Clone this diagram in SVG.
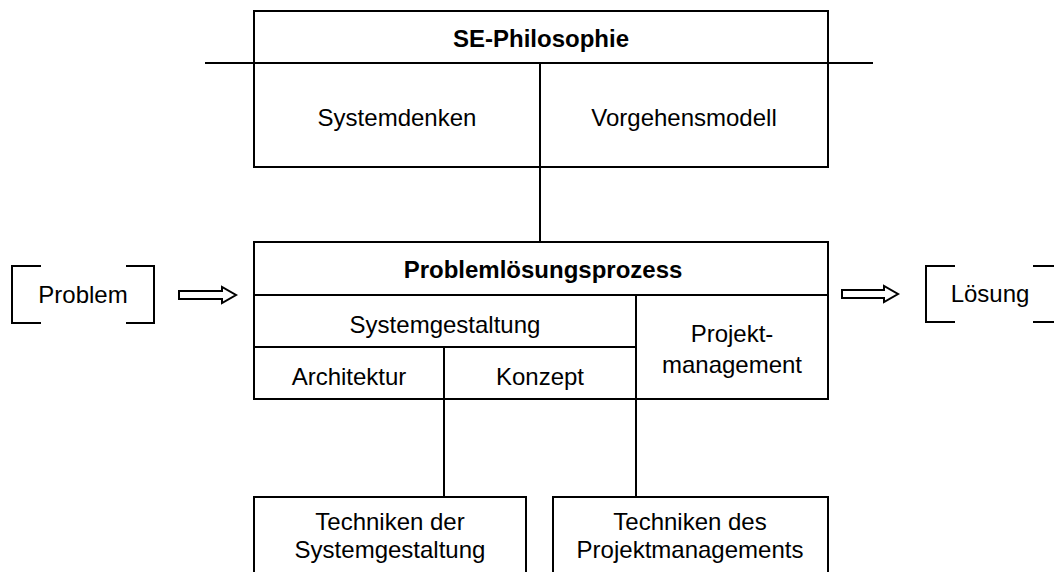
<svg xmlns="http://www.w3.org/2000/svg" width="1054" height="572" viewBox="0 0 1054 572">
<style>
.b{fill:none;stroke:#000;stroke-width:2}
.l{stroke:#000;stroke-width:2;fill:none}
.t{font-family:"Liberation Sans",Arial,sans-serif;font-size:24px;fill:#000;text-anchor:middle}
.h{font-weight:bold}
.ar{fill:#fff;stroke:#000;stroke-width:2;stroke-linejoin:miter}
</style>
<rect width="1054" height="572" fill="#fff"/>
<g id="se-philosophie">
<rect class="b" x="254" y="11" width="574" height="156"/>
<line class="l" x1="205" y1="63" x2="873" y2="63"/>
<line class="l" x1="540" y1="63" x2="540" y2="167"/>
<text class="t h" x="541" y="47">SE-Philosophie</text>
<text class="t" x="397" y="126">Systemdenken</text>
<text class="t" x="684" y="126">Vorgehensmodell</text>
</g>
<g id="problemloesungsprozess">
<rect class="b" x="254" y="242" width="574" height="157"/>
<line class="l" x1="254" y1="295" x2="828" y2="295"/>
<line class="l" x1="254" y1="347" x2="636" y2="347"/>
<line class="l" x1="636" y1="295" x2="636" y2="399"/>
<line class="l" x1="444" y1="347" x2="444" y2="399"/>
<text class="t h" x="543" y="278">Problemlösungsprozess</text>
<text class="t" x="445" y="333">Systemgestaltung</text>
<text class="t" x="349" y="385">Architektur</text>
<text class="t" x="540" y="385">Konzept</text>
<text class="t" x="732" y="342">Projekt-</text>
<text class="t" x="732" y="373">management</text>
</g>
<g id="problem">
<path class="l" d="M41,266 H12 V323 H41 M126,266 H154 V323 H126"/>
<text class="t" x="83" y="303">Problem</text>
</g>
<g id="loesung">
<path class="l" d="M955,266 H926 V322 H955 M1033,266 H1054 M1033,322 H1054"/>
<text class="t" x="990" y="302">Lösung</text>
</g>
<g id="techniken-systemgestaltung">
<rect class="b" x="254" y="497" width="272" height="90"/>
<text class="t" x="390" y="530">Techniken der</text>
<text class="t" x="390" y="558">Systemgestaltung</text>
</g>
<g id="techniken-projektmanagement">
<rect class="b" x="553" y="497" width="275" height="90"/>
<text class="t" x="690" y="530">Techniken des</text>
<text class="t" x="690" y="558">Projektmanagements</text>
</g>
<g id="connectors">
<line class="l" x1="540" y1="167" x2="540" y2="242"/>
<line class="l" x1="444" y1="399" x2="444" y2="497"/>
<line class="l" x1="636" y1="399" x2="636" y2="497"/>
<path class="ar" d="M179,291 H222 V287 L236,295 L222,303 V299 H179 Z"/>
<path class="ar" d="M842,290 H884 V286 L898,294 L884,302 V298 H842 Z"/>
</g>
</svg>
